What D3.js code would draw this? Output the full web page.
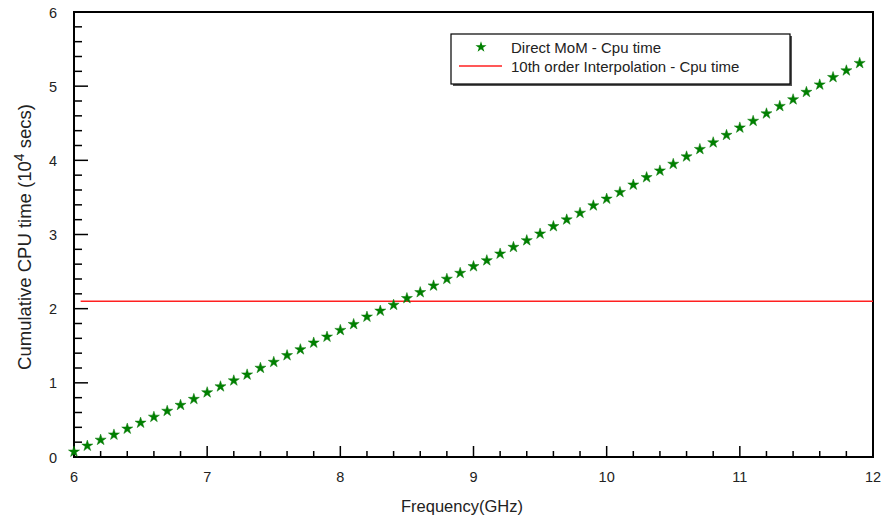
<!DOCTYPE html>
<html><head><meta charset="utf-8">
<script src="https://cdn.jsdelivr.net/npm/d3@7"></script>
<style>body{margin:0;background:#fff}svg{display:block;font-family:"Liberation Sans",Arial,sans-serif}</style>
</head><body><svg id="c" width="885" height="523"></svg>
<script>
const freq = [6.0,6.1,6.2,6.3,6.4,6.5,6.6,6.7,6.8,6.9,7.0,7.1,7.2,7.3,7.4,7.5,7.6,7.7,7.8,7.9,8.0,8.1,8.2,8.3,8.4,8.5,8.6,8.7,8.8,8.9,9.0,9.1,9.2,9.3,9.4,9.5,9.6,9.7,9.8,9.9,10.0,10.1,10.2,10.3,10.4,10.5,10.6,10.7,10.8,10.9,11.0,11.1,11.2,11.3,11.4,11.5,11.6,11.7,11.8,11.9];
const momCpu = [0.07,0.15,0.23,0.30,0.38,0.46,0.54,0.62,0.70,0.78,0.87,0.95,1.03,1.11,1.20,1.28,1.37,1.45,1.54,1.62,1.71,1.79,1.89,1.97,2.05,2.14,2.22,2.31,2.40,2.48,2.57,2.65,2.74,2.83,2.92,3.01,3.11,3.20,3.29,3.39,3.48,3.57,3.67,3.77,3.86,3.95,4.05,4.15,4.24,4.34,4.44,4.53,4.63,4.73,4.82,4.92,5.02,5.12,5.21,5.31];
const interpX = [6.05, 12];
const interpCpu = [2.1, 2.1];
const xTicks = [6,7,8,9,10,11,12];
const yTicks = [0,1,2,3,4,5,6];
const seriesNames = ["Direct MoM - Cpu time","10th order Interpolation - Cpu time"];

const svg = d3.select("#c");
const L=74, R=873, T=12, B=457;
const x = d3.scaleLinear().domain([6,12]).range([L,R]);
const y = d3.scaleLinear().domain([0,6]).range([B,T]);

const xMinor = d3.range(6,12.001,0.2).filter(v=>Math.abs(v-Math.round(v))>1e-6);
const yMinor = d3.range(0,6.001,0.2).filter(v=>Math.abs(v-Math.round(v))>1e-6);
const g = svg.append("g");
g.selectAll(".xmin").data(xMinor).join("line").attr("x1",d=>x(d)).attr("x2",d=>x(d)).attr("y1",B).attr("y2",B-6).attr("stroke","#000").attr("stroke-width",1.5);
g.selectAll(".xmaj").data(xTicks).join("line").attr("x1",d=>x(d)).attr("x2",d=>x(d)).attr("y1",B).attr("y2",B-11).attr("stroke","#000").attr("stroke-width",1.5);
g.selectAll(".ymin").data(yMinor).join("line").attr("y1",d=>y(d)).attr("y2",d=>y(d)).attr("x1",L).attr("x2",L+8).attr("stroke","#000").attr("stroke-width",1.5);
g.selectAll(".ymaj").data(yTicks).join("line").attr("y1",d=>y(d)).attr("y2",d=>y(d)).attr("x1",L).attr("x2",L+14).attr("stroke","#000").attr("stroke-width",1.5);

g.selectAll(".xl").data(xTicks).join("text").attr("x",d=>x(d)).attr("y",B+25).attr("text-anchor","middle").attr("font-size",14.5).attr("fill","#222").text(d=>d);
g.selectAll(".yl").data(yTicks).join("text").attr("x",L-17).attr("y",d=>y(d)+5.5).attr("text-anchor","end").attr("font-size",14.5).attr("fill","#222").text(d=>d);

svg.append("rect").attr("x",L).attr("y",T).attr("width",R-L).attr("height",B-T).attr("fill","none").attr("stroke","#000").attr("stroke-width",2);

svg.append("path").datum(interpX.map((v,i)=>[v,interpCpu[i]]))
  .attr("d",d3.line().x(d=>x(d[0])).y(d=>y(d[1]))).attr("stroke","#ff2020").attr("stroke-width",1.5).attr("fill","none");

const star = d3.symbol().type(d3.symbolStar).size(38);
svg.selectAll(".st").data(freq.map((f,i)=>[f,momCpu[i]])).join("path")
  .attr("transform",d=>`translate(${x(d[0])},${y(d[1])})`).attr("d",star()).attr("fill","#008000").attr("stroke","#0a7a0a").attr("stroke-width",0.5);

svg.append("text").attr("x",462).attr("y",512).attr("text-anchor","middle").attr("font-size",16.5).attr("fill","#222").text("Frequency(GHz)");
const yt = svg.append("text").attr("transform","translate(31,237) rotate(-90)").attr("text-anchor","middle").attr("font-size",18.5).attr("fill","#222");
yt.append("tspan").text("Cumulative CPU time (10");
yt.append("tspan").attr("font-size",14).attr("dy",-7).text("4");
yt.append("tspan").attr("dy",7).text(" secs)");

const lg = svg.append("g");
lg.append("rect").attr("x",453).attr("y",36).attr("width",339).attr("height",50).attr("fill","#555");
lg.append("rect").attr("x",451).attr("y",34).attr("width",339).attr("height",50).attr("fill","#fff").attr("stroke","#000").attr("stroke-width",1.2);
lg.append("path").attr("transform","translate(481,47)").attr("d",star()).attr("fill","#008000");
lg.append("line").attr("x1",459).attr("x2",502).attr("y1",66).attr("y2",66).attr("stroke","#ff2020").attr("stroke-width",1.5);
lg.selectAll(".lt").data(seriesNames).join("text").attr("x",511).attr("y",(d,i)=>52.5+i*19).attr("font-size",15).attr("fill","#222").text(d=>d);
</script></body></html>
